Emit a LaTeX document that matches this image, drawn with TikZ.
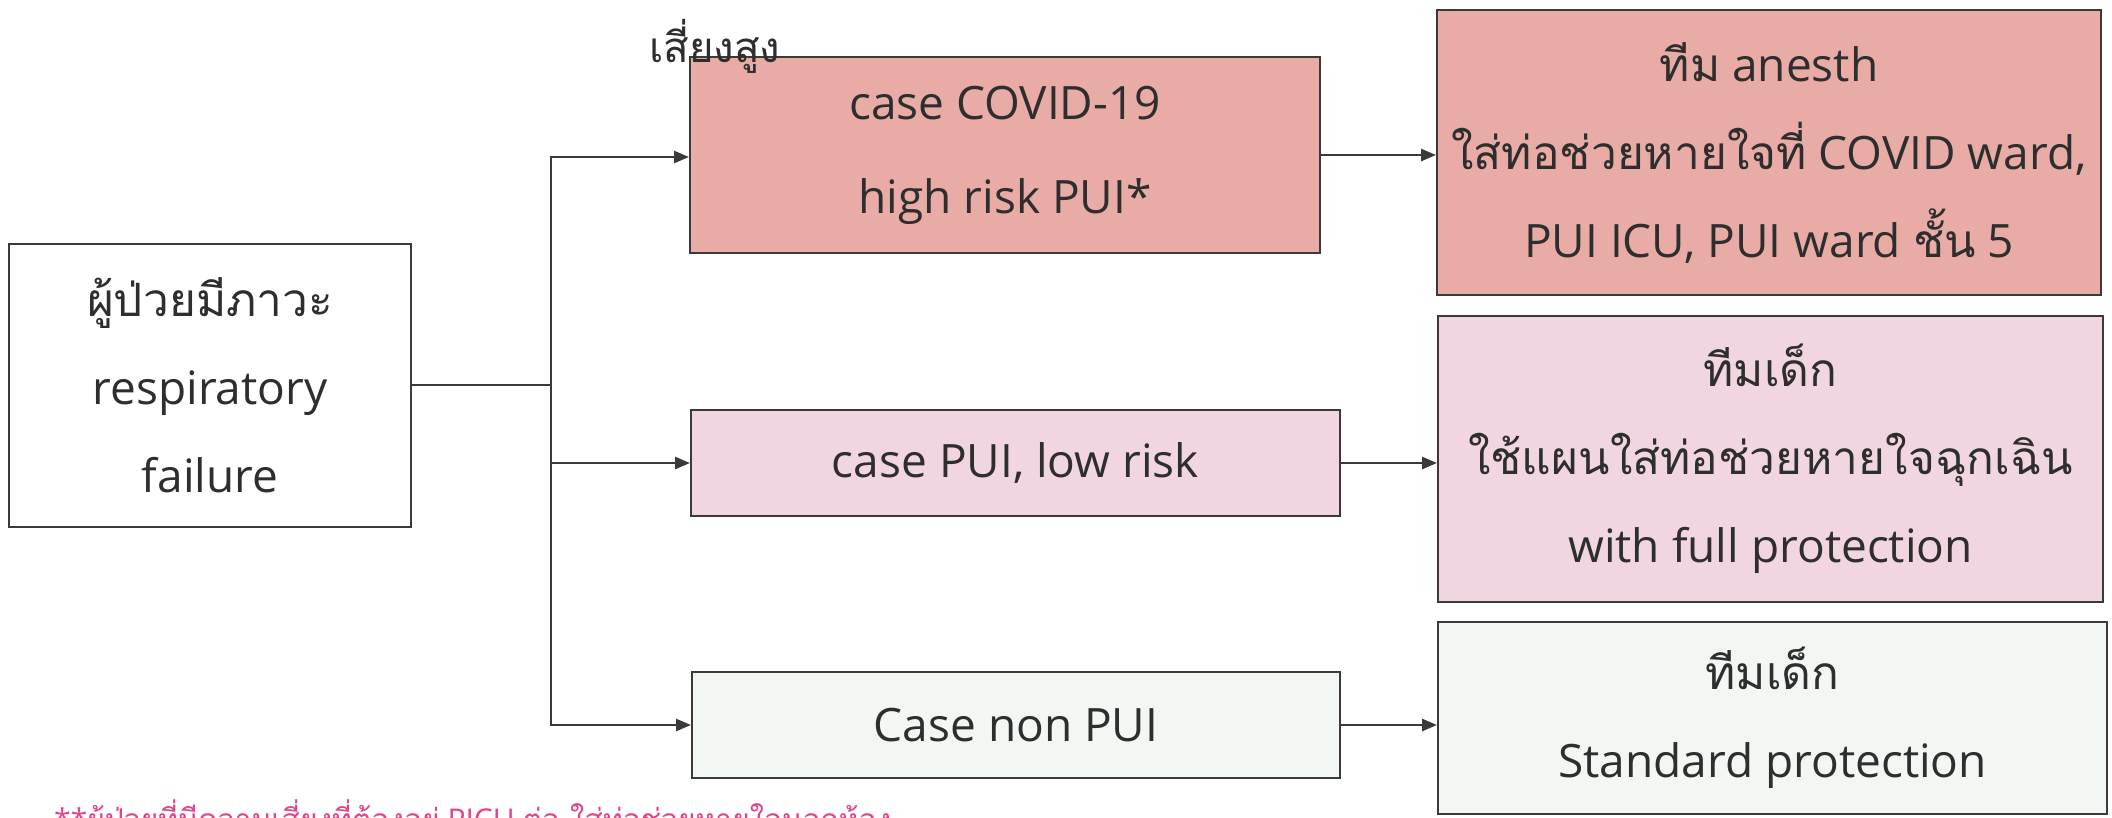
\documentclass[tikz,border=0pt]{standalone}
\usepackage{fontspec}
\setmainfont{Open Sans}
\newfontfamily\thfont[Script=Thai]{Loma}
\usetikzlibrary{arrows.meta}
\definecolor{ink}{HTML}{3A3A3A}
\definecolor{txt}{HTML}{2E2E2E}
\definecolor{salmon}{HTML}{E8ABA5}
\definecolor{pinkbox}{HTML}{F1D6E2}
\definecolor{mintbox}{HTML}{F3F7F3}
\definecolor{footpink}{HTML}{E0458C}
\begin{document}
\begin{tikzpicture}[x=1pt,y=-1pt,
  box/.style={draw=ink, line width=2pt, inner sep=0pt, align=center,
    text=txt, font=\fontsize{46}{88}\selectfont},
  link/.style={draw=ink, line width=2.6pt, -{Triangle[length=15pt,width=12pt]}},
  wire/.style={draw=ink, line width=2.6pt, line cap=rect}]
\clip (0,0) rectangle (2112,817);
\useasboundingbox (0,0) rectangle (2112,817);

% source box
\node[box, fill=white, minimum width=402pt, minimum height=283pt] (src) at (210,385)
  {{\thfont ผู้ป่วยมีภาวะ}\\respiratory\\failure};

% case boxes
\node[box, fill=salmon, minimum width=630pt, minimum height=196pt,
  font=\fontsize{46}{94}\selectfont] (c1) at (1005,155)
  {case COVID-19\\high risk PUI*};
\node[box, fill=pinkbox, minimum width=649pt, minimum height=106pt] (c2) at (1015.5,463)
  {case PUI, low risk};
\node[box, fill=mintbox, minimum width=648pt, minimum height=106pt] (c3) at (1016,725)
  {Case non PUI};

% team boxes
\node[box, fill=salmon, minimum width=664pt, minimum height=285pt] (t1) at (1769,152.5)
  {{\thfont ทีม} anesth\\{\thfont ใส่ท่อช่วยหายใจที่} COVID ward,\\PUI ICU, PUI ward {\thfont ชั้น} 5};
\node[box, fill=pinkbox, minimum width=665pt, minimum height=286pt] (t2) at (1770.5,459)
  {{\thfont ทีมเด็ก}\\{\thfont ใช้แผนใส่ท่อช่วยหายใจฉุกเฉิน}\\with full protection};
\node[box, fill=mintbox, minimum width=669pt, minimum height=192pt] (t3) at (1772.5,718)
  {{\thfont ทีมเด็ก}\\Standard protection};

% risk label over the first case box
\node[anchor=base west, inner sep=0pt, text=txt, font=\thfont\fontsize{42}{44}\selectfont]
  (risk) at (649,62) {เสี่ยงสูง};

% branching connectors
\coordinate (jt) at (551,157);
\draw[wire] (src.east) -- (src.east -| jt);
\draw[wire] (jt) -- (jt |- c3.west);
\draw[link] (jt) -- (jt -| c1.west);
\draw[link] (jt |- c2.west) -- (c2.west);
\draw[link] (jt |- c3.west) -- (c3.west);

% case -> team
\draw[link] (c1.east) -- (c1.east -| t1.west);
\draw[link] (c2.east) -- (c2.east -| t2.west);
\draw[link] (c3.east) -- (c3.east -| t3.west);

% footnote along the lower edge
\node[anchor=base west, inner sep=0pt, text=footpink, font=\fontsize{30}{32}\selectfont]
  (note) at (54,830) {**{\thfont ผู้ป่วยที่มีความเสี่ยงที่ต้องอยู่} PICU {\thfont ต่อ ใส่ท่อช่วยหายใจนอกห้อง}};
\end{tikzpicture}
\end{document}
